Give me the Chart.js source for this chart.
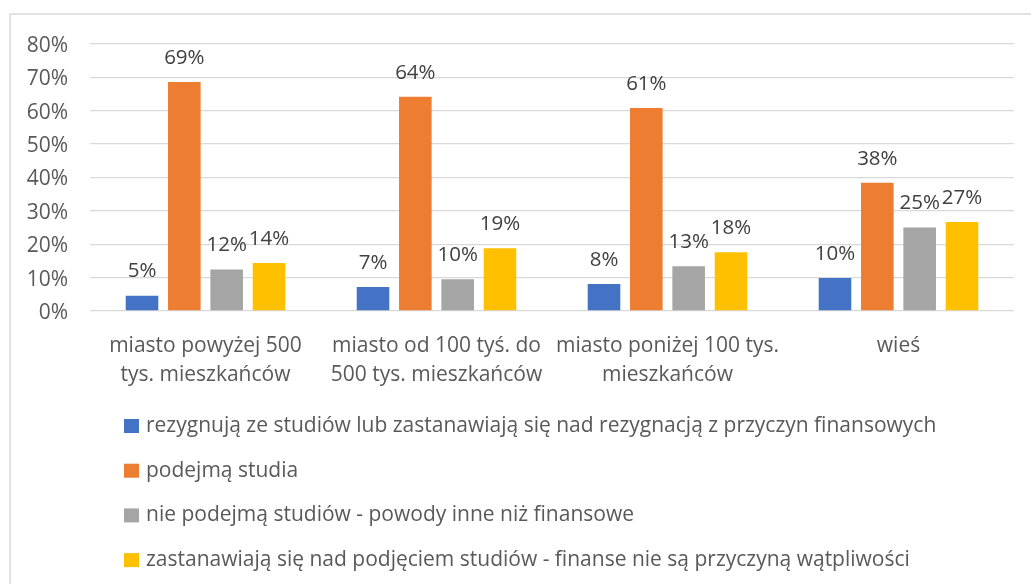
<!DOCTYPE html>
<html><head><meta charset="utf-8">
<script src="https://cdn.jsdelivr.net/npm/chart.js@4.4.0/dist/chart.umd.min.js"></script>
<style>html,body{margin:0;padding:0;background:#fff;overflow:hidden}
#wrap{position:relative;width:1031px;height:584px}
canvas{display:block}
</style></head><body>
<div id="wrap"><canvas id="c" width="1031" height="584"></canvas></div>
<script>
const categories = [
  ["miasto powyżej 500", "tys. mieszkańców"],
  ["miasto od 100 tyś. do", "500 tys. mieszkańców"],
  ["miasto poniżej 100 tys.", "mieszkańców"],
  ["wieś"]
];
const seriesNames = [
  "rezygnują ze studiów lub zastanawiają się nad rezygnacją z przyczyn finansowych",
  "podejmą studia",
  "nie podejmą studiów - powody inne niż finansowe",
  "zastanawiają się nad podjęciem studiów - finanse nie są przyczyną wątpliwości"
];
const rezygnuja = [4.6, 7.2, 8.1, 9.9];
const podejma = [68.6, 64.2, 60.8, 38.4];
const niePodejma = [12.4, 9.5, 13.4, 25.0];
const zastanawiaja = [14.4, 18.8, 17.6, 26.7];
const seriesColors = ["#4472C4", "#ED7D31", "#A5A5A5", "#FFC000"];
const yTickValues = [0, 10, 20, 30, 40, 50, 60, 70, 80];

const FONT = "'Open Sans'";
const FS = 21;

const frame = {
  id: 'frame',
  beforeDraw(chart) {
    const ctx = chart.ctx;
    ctx.save();
    ctx.strokeStyle = '#d9d9d9';
    ctx.lineWidth = 1.5;
    ctx.beginPath();
    ctx.moveTo(10, chart.height);
    ctx.lineTo(10, 14);
    ctx.lineTo(chart.width, 14);
    ctx.stroke();
    ctx.restore();
  }
};

const valueLabels = {
  id: 'valueLabels',
  afterDatasetsDraw(chart) {
    const ctx = chart.ctx;
    ctx.save();
    ctx.font = '20.5px ' + FONT;
    ctx.fillStyle = '#404040';
    ctx.textAlign = 'center';
    ctx.textBaseline = 'middle';
    chart.data.datasets.forEach((ds, i) => {
      const meta = chart.getDatasetMeta(i);
      meta.data.forEach((bar, j) => {
        ctx.fillText(Math.round(ds.data[j]) + '%', bar.x, bar.y - 24);
      });
    });
    ctx.restore();
  }
};

const listLegend = {
  id: 'listLegend',
  afterDraw(chart) {
    const ctx = chart.ctx;
    ctx.save();
    ctx.font = FS + 'px ' + FONT;
    ctx.textAlign = 'left';
    ctx.textBaseline = 'middle';
    chart.data.datasets.forEach((ds, i) => {
      const cy = 426 + i * 44.7;
      ctx.fillStyle = ds.backgroundColor;
      ctx.fillRect(124, cy - 7, 15, 14);
      ctx.fillStyle = '#595959';
      ctx.fillText(ds.label, 146, cy);
    });
    ctx.restore();
  }
};

const datasets = [rezygnuja, podejma, niePodejma, zastanawiaja].map((d, i) => ({
  label: seriesNames[i],
  data: d,
  backgroundColor: seriesColors[i],
  borderWidth: 0,
  categoryPercentage: 0.733,
  barPercentage: 0.77
}));

new Chart(document.getElementById('c'), {
  type: 'bar',
  data: { labels: categories, datasets },
  options: {
    responsive: false,
    animation: false,
    devicePixelRatio: 1,
    layout: { padding: { left: 10, top: 44, right: 17, bottom: 0 } },
    plugins: { legend: { display: false }, tooltip: { enabled: false } },
    scales: {
      x: {
        grid: { display: false, drawTicks: false },
        border: { display: false },
        ticks: { color: '#595959', font: { family: FONT, size: FS, lineHeight: 1.38 }, padding: 21, maxRotation: 0, autoSkip: false },
        afterFit(s) { s.height = 273; }
      },
      y: {
        min: 0, max: 80,
        afterBuildTicks(s) { s.ticks = yTickValues.map(v => ({ value: v })); },
        grid: { color: '#d9d9d9', lineWidth: 1.3, drawTicks: false },
        border: { display: false },
        ticks: { color: '#595959', font: { family: FONT, size: FS }, padding: 22, labelOffset: 2, callback: v => v + '%' },
        afterFit(s) { s.width = 80; }
      }
    }
  },
  plugins: [frame, valueLabels, listLegend]
});
</script>
</body></html>
